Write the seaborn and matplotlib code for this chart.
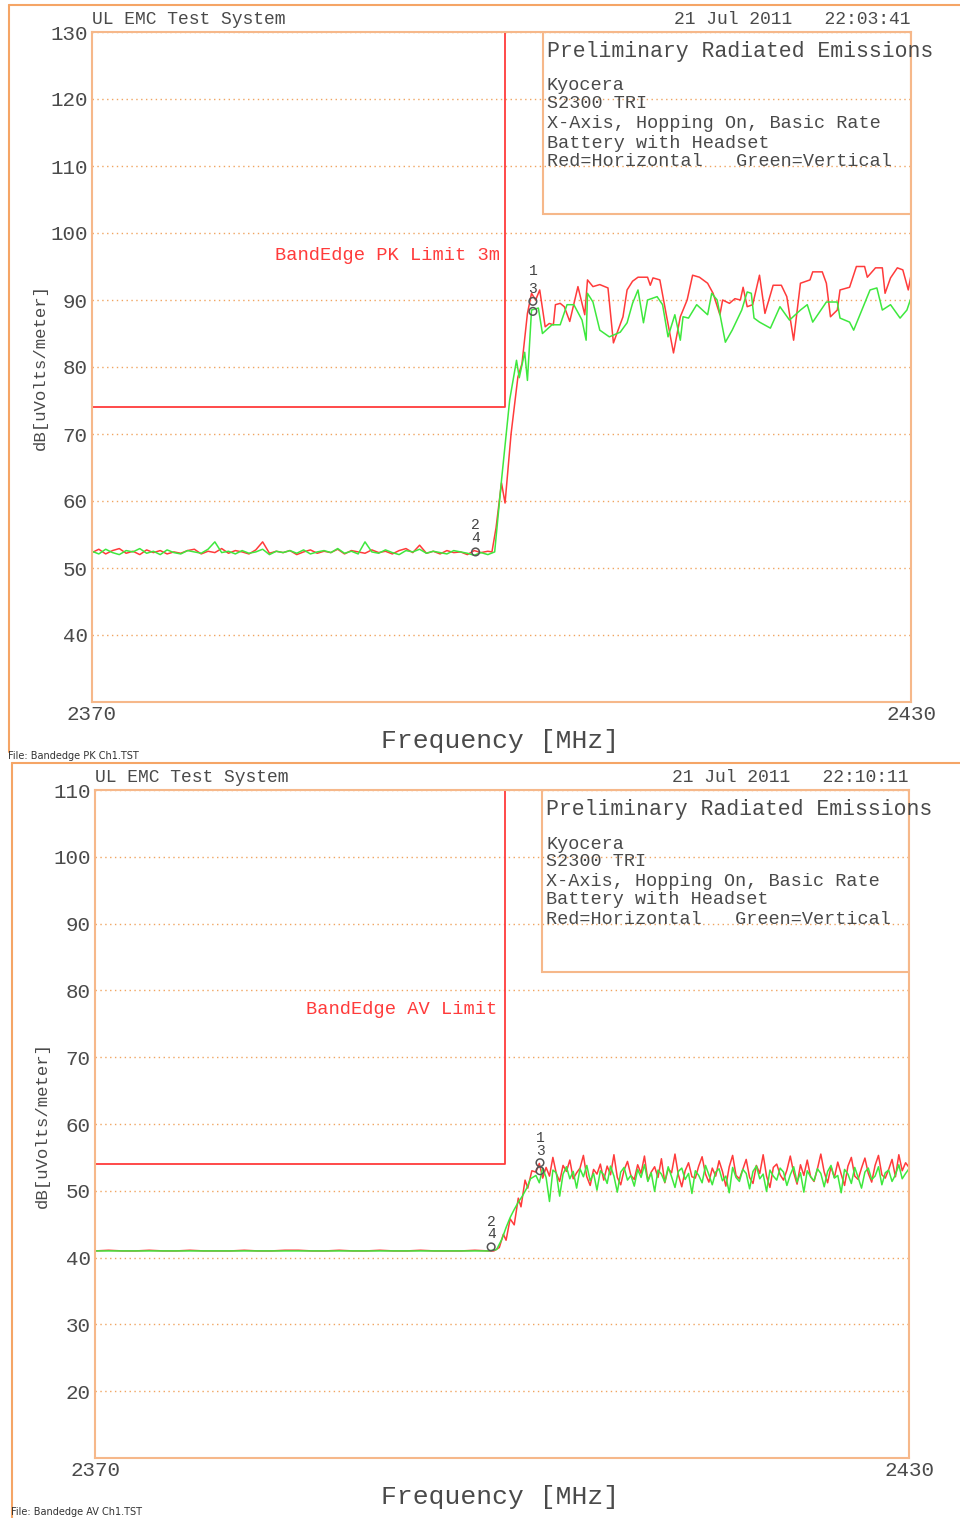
import numpy as np
import pandas as pd
import matplotlib
matplotlib.use("Agg")
import matplotlib.pyplot as plt
from matplotlib.lines import Line2D
from matplotlib.patches import Rectangle
import seaborn as sns

# ---------------- DATA ----------------
# Top panel (peak)
pk_base_freq = np.arange(2370.0, 2399.01, 0.5)
pk_red_base = [52.3, 52.8, 52.1, 52.6, 52.9, 52.2, 52.5, 52.0, 52.7, 52.3,
               52.6, 52.1, 52.4, 52.2, 52.6, 52.8, 52.1, 52.5, 52.3, 52.9,
               52.2, 52.6, 52.4, 52.1, 52.7, 53.9, 52.2, 52.5, 52.3, 52.6,
               52.0, 52.4, 52.7, 52.2, 52.5, 52.3, 52.8, 52.1, 52.6, 52.4,
               52.2, 52.7, 52.3, 52.5, 52.1, 52.6, 52.9, 52.3, 53.4, 52.2,
               52.5, 52.1, 52.6, 52.3, 52.4, 52.0, 52.6, 52.3, 52.5]
pk_green_base = [52.5, 52.1, 52.8, 52.3, 52.0, 52.6, 52.4, 52.9, 52.2, 52.5,
                 52.0, 52.7, 52.3, 52.1, 52.6, 52.4, 52.2, 52.8, 53.9, 52.3,
                 52.5, 52.1, 52.6, 52.2, 52.4, 52.8, 52.0, 52.5, 52.3, 52.6,
                 52.2, 52.7, 52.1, 52.4, 52.6, 52.3, 52.9, 52.2, 52.5, 52.1,
                 53.9, 52.4, 52.2, 52.7, 52.3, 52.0, 52.6, 52.4, 52.8, 52.2,
                 52.5, 52.3, 52.1, 52.6, 52.4, 52.2, 51.9, 52.3, 52.0]
pk_red_freq = [2399.3, 2399.6, 2400.0, 2400.26, 2400.7, 2401.2, 2401.5, 2401.9,
               2402.2, 2402.5, 2402.8, 2403.2, 2403.5, 2403.8, 2403.95, 2404.3,
               2404.6, 2405.0, 2405.6, 2406.1, 2406.3, 2406.7, 2407.2, 2407.8,
               2408.2, 2408.9, 2409.2, 2409.6, 2410.0, 2410.7, 2410.9, 2411.1,
               2411.6, 2412.1, 2412.6, 2413.1, 2413.6, 2414.0, 2414.5, 2415.1,
               2415.5, 2416.0, 2416.2, 2416.7, 2417.1, 2417.5, 2417.7, 2418.0,
               2418.4, 2418.9, 2419.3, 2419.9, 2420.5, 2420.9, 2421.4, 2421.9,
               2422.6, 2422.8, 2423.5, 2423.8, 2424.1, 2424.6, 2424.8, 2425.5,
               2426.0, 2426.6, 2426.8, 2427.4, 2427.9, 2428.1, 2428.5, 2429.0,
               2429.4, 2429.8, 2430.0]
pk_red_level = [52.4, 56.0, 62.7, 59.7, 70.0, 78.5, 80.5, 88.0,
                91.0, 90.0, 91.5, 86.0, 86.5, 86.3, 89.3, 89.5,
                89.0, 86.8, 92.0, 87.8, 93.0, 92.0, 92.3, 91.8,
                83.6, 87.5, 91.5, 92.8, 93.4, 93.4, 92.2, 93.3,
                93.0, 87.5, 82.1, 87.5, 90.0, 93.7, 93.4, 92.5,
                91.0, 87.8, 90.0, 89.5, 90.2, 90.0, 91.9, 89.0,
                89.3, 93.7, 88.0, 92.2, 92.2, 90.5, 84.0, 92.5,
                93.0, 94.2, 94.2, 92.5, 87.5, 88.5, 91.5, 91.9,
                95.0, 95.0, 93.4, 94.8, 94.8, 91.0, 93.3, 94.8,
                94.5, 91.5, 93.7]
pk_green_freq = [2399.5, 2400.0, 2400.6, 2401.1, 2401.3, 2401.7, 2401.9, 2402.2,
                 2402.7, 2403.0, 2403.7, 2404.3, 2404.8, 2405.3, 2405.9, 2406.2,
                 2406.3, 2406.7, 2407.2, 2407.9, 2408.7, 2409.2, 2409.6, 2410.0,
                 2410.4, 2410.7, 2411.4, 2411.8, 2412.2, 2412.7, 2413.1, 2413.3,
                 2413.7, 2414.3, 2415.1, 2415.4, 2415.8, 2416.4, 2416.9, 2417.6,
                 2418.0, 2418.3, 2418.5, 2418.9, 2419.7, 2420.4, 2421.1, 2421.9,
                 2422.4, 2422.8, 2423.8, 2424.6, 2424.8, 2425.5, 2425.8, 2426.4,
                 2427.0, 2427.5, 2427.9, 2428.5, 2429.2, 2429.7, 2430.0]
pk_green_level = [52.4, 63.1, 75.1, 81.0, 78.4, 82.2, 78.0, 88.5,
                  88.8, 85.0, 86.3, 86.3, 89.3, 89.3, 87.0, 84.0,
                  91.0, 89.7, 85.5, 84.5, 85.2, 86.6, 89.5, 91.5,
                  86.6, 90.0, 90.5, 89.3, 84.5, 87.8, 84.0, 87.5,
                  87.3, 89.3, 87.8, 91.0, 90.0, 83.7, 85.5, 88.5,
                  91.2, 91.0, 87.3, 86.7, 85.8, 89.0, 87.0, 88.5,
                  89.3, 86.7, 89.7, 89.7, 87.3, 86.7, 85.5, 88.5,
                  91.5, 91.8, 88.5, 89.3, 87.3, 88.5, 90.3]

# Bottom panel (average)
av_base_freq = np.arange(2370.0, 2399.01, 1.0)
av_red_base = [41.0, 41.1, 41.0, 41.0, 41.1, 41.0, 41.0, 41.1, 41.0, 41.0,
               41.0, 41.1, 41.0, 41.0, 41.1, 41.1, 41.0, 41.0, 41.1, 41.0,
               41.0, 41.1, 41.0, 41.0, 41.1, 41.0, 41.0, 41.0, 41.1, 41.0]
av_green_base = [41.0, 41.0, 41.0, 41.0, 41.0, 41.0, 41.0, 41.0, 41.0, 41.0,
                 41.0, 41.0, 41.0, 41.0, 41.0, 41.0, 41.0, 41.0, 41.0, 41.0,
                 41.0, 41.0, 41.0, 41.0, 41.0, 41.0, 41.0, 41.0, 41.0, 41.0]
av_red_rise_freq = [2399.4, 2399.8, 2400.1, 2400.3, 2400.6, 2400.9, 2401.2,
                    2401.4, 2401.7, 2401.9, 2402.2]
av_red_rise = [41.0, 41.5, 43.5, 42.6, 45.8, 44.9, 48.9, 47.6, 51.6, 50.4, 53.0]
av_green_rise_freq = [2399.6, 2400.0, 2400.3, 2400.6, 2400.9, 2401.2, 2401.5,
                      2401.8, 2402.1]
av_green_rise = [41.2, 42.8, 44.5, 46.0, 47.2, 48.3, 49.2, 50.3, 51.8]
av_noise_freq = np.arange(2402.5, 2430.01, 0.25)
av_red_noise = [52.8, 54.1, 51.9, 53.5, 52.2, 55.0, 52.6, 51.4, 53.8, 52.9,
                54.6, 51.8, 52.7, 53.4, 55.3, 52.1, 50.8, 53.2, 52.5, 54.0,
                51.6, 53.7, 52.4, 55.4, 52.0, 50.9, 53.1, 54.4, 52.3, 51.7,
                53.9, 52.6, 55.2, 51.5, 52.8, 53.6, 52.0, 54.8, 51.2, 53.3,
                52.7, 55.5, 52.4, 50.6, 53.0, 54.2, 52.1, 51.9, 53.7, 55.1,
                52.5, 51.3, 53.4, 52.2, 54.5, 52.9, 50.7, 53.6, 55.3, 52.3,
                51.8, 53.2, 54.7, 52.0, 51.1, 53.8, 52.6, 55.4, 52.2, 50.5,
                53.5, 54.0, 52.4, 51.6, 53.1, 55.2, 52.7, 51.0, 53.9, 52.3,
                54.6, 52.1, 51.4, 53.3, 55.5, 52.8, 51.2, 53.6, 52.0, 54.3,
                52.5, 50.8, 53.7, 55.0, 52.2, 51.7, 53.4, 54.9, 52.6, 51.3,
                53.8, 55.3, 52.4, 51.9, 53.2, 54.7, 52.1, 55.4, 53.0, 54.2,
                53.5]
av_green_noise = [52.3, 51.2, 53.4, 52.0, 48.4, 53.1, 52.7, 49.2, 52.5, 53.6,
                  51.8, 52.9, 50.4, 53.3, 52.1, 53.8, 51.5, 52.6, 50.1, 53.0,
                  52.4, 51.1, 53.7, 52.2, 49.8, 52.8, 53.5, 51.6, 52.3, 50.7,
                  53.2, 52.0, 53.9, 51.4, 52.7, 49.9, 53.1, 52.5, 51.3, 53.6,
                  52.1, 50.5, 52.9, 53.4, 51.7, 52.6, 49.6, 53.0, 52.3, 51.2,
                  53.8, 52.4, 50.9, 52.8, 53.3, 51.5, 52.2, 49.7, 53.5, 52.0,
                  51.4, 53.2, 52.6, 50.3, 52.9, 53.7, 51.8, 52.5, 49.9, 53.1,
                  52.2, 51.6, 53.4, 52.8, 50.8, 52.4, 53.6, 51.3, 52.7, 49.8,
                  53.0, 52.1, 51.5, 53.3, 52.6, 50.6, 52.9, 53.8, 51.9, 52.3,
                  49.7, 53.2, 52.5, 51.1, 53.5, 52.0, 50.4, 52.8, 53.4, 51.7,
                  52.2, 53.6, 50.9, 52.7, 53.1, 51.4, 52.4, 53.9, 51.8, 52.6,
                  53.3]

band_edge = 2400.25
pk_limit = 74.0
av_limit = 54.0

# marker symbols and labels (freq, level)
pk_mk_freq = [2402.3, 2402.3, 2398.1]
pk_mk_level = [89.8, 88.3, 52.4]
pk_lab_freq = [2402.3, 2402.3, 2398.1, 2398.1]
pk_lab_level = [94.3, 91.6, 56.4, 54.5]
pk_lab_text = ["1", "3", "2", "4"]
av_mk_freq = [2402.8, 2402.8, 2399.2]
av_mk_level = [54.2, 53.0, 41.6]
av_lab_freq = [2402.8, 2402.8, 2399.2, 2399.2]
av_lab_level = [57.9, 55.9, 45.3, 43.5]
av_lab_text = ["1", "3", "2", "4"]

legend_lines = ["Kyocera", "S2300 TRI", "X-Axis, Hopping On, Basic Rate",
                "Battery with Headset", "Red=Horizontal   Green=Vertical"]

# ---------------- STYLE ----------------
sns.set_style("white")
plt.rcParams['font.family'] = ['Liberation Mono', 'DejaVu Sans Mono', 'DejaVu Sans']

W, H = 960, 1518
RED = "#ff3b3b"
GREEN = "#3ee83e"
ORANGE = "#f6b88a"
GRIDC = "#f0a460"
TXT = "#4a4a4a"

fig = plt.figure(figsize=(W / 100, H / 100), dpi=100)


def rect(l, t, r, b):
    return [l / W, 1 - b / H, (r - l) / W, (b - t) / H]


def fx(px):
    return px / W


def fy(py):
    return 1 - py / H


def make_df(rf, rl, gf, gl):
    d1 = pd.DataFrame({"freq": rf, "level": rl, "pol": "Horizontal"})
    d2 = pd.DataFrame({"freq": gf, "level": gl, "pol": "Vertical"})
    return pd.concat([d1, d2], ignore_index=True)


df_pk = make_df(list(pk_base_freq) + pk_red_freq, pk_red_base + pk_red_level,
                list(pk_base_freq) + pk_green_freq, pk_green_base + pk_green_level)
df_av = make_df(list(av_base_freq) + av_red_rise_freq + list(av_noise_freq),
                av_red_base + av_red_rise + av_red_noise,
                list(av_base_freq) + av_green_rise_freq + list(av_noise_freq),
                av_green_base + av_green_rise + av_green_noise)


def panel(ax, df, ymin, ymax, limit, mkf, mkl, lf, ll, lt, legbox):
    sns.lineplot(data=df, x="freq", y="level", hue="pol",
                 hue_order=["Horizontal", "Vertical"], palette=[RED, GREEN],
                 estimator=None, sort=False, lw=1.1, legend=False, ax=ax)
    ax.plot([2370, band_edge, band_edge], [limit, limit, ymax], color=RED,
            lw=1.3, clip_on=False)
    ax.set_xlim(2370, 2430)
    ax.set_ylim(ymin, ymax)
    ax.set_xticks([2370, 2430])
    ax.set_yticks(list(range(ymin + 10, ymax + 1, 10)))
    ax.set_xlabel("")
    ax.set_ylabel("")
    ax.yaxis.grid(True, linestyle=(0, (1, 2.5)), color=GRIDC, lw=1.0)
    ax.xaxis.grid(False)
    for s in ax.spines.values():
        s.set_visible(True)
        s.set_color(ORANGE)
        s.set_linewidth(1.5)
    ax.tick_params(axis="both", length=0, labelsize=15, labelcolor=TXT)
    ax.tick_params(axis="y", pad=3)
    ax.tick_params(axis="x", pad=2)
    ax.scatter(mkf, mkl, s=30, marker="o", facecolors="none",
               edgecolors="#555555", linewidths=1.1, zorder=5)
    for f, l, t in zip(lf, ll, lt):
        ax.text(f, l, t, ha="center", va="center", fontsize=10.5, color="#444444",
                zorder=6)
    x0, y0 = legbox
    ax.add_patch(Rectangle((x0, y0), 1 - x0, 1 - y0, transform=ax.transAxes,
                           fill=False, ec=ORANGE, lw=1.5, zorder=4))


ax1 = fig.add_axes(rect(92, 32, 911, 702))
panel(ax1, df_pk, 30, 130, pk_limit, pk_mk_freq, pk_mk_level,
      pk_lab_freq, pk_lab_level, pk_lab_text, ((543 - 92) / 819, 1 - (214 - 32) / 670))

ax2 = fig.add_axes(rect(95, 790, 909, 1458))
panel(ax2, df_av, 10, 110, av_limit, av_mk_freq, av_mk_level,
      av_lab_freq, av_lab_level, av_lab_text, ((542 - 95) / 814, 1 - (972 - 790) / 668))

# outer frames
for (xa, ya, xb, yb) in [(9, 5, 960, 5), (9, 5, 9, 752), (12, 763, 960, 763), (12, 763, 12, 1518)]:
    fig.add_artist(Line2D([fx(xa), fx(xb)], [fy(ya), fy(yb)], color="#f5a566", lw=1.5))


def texts(left, right, ytop, date, leg_x, leg_ys, limit_text, limit_xy, ylab_xy, xlab_y, file_xy, file_text):
    fig.text(fx(left), fy(ytop), "UL EMC Test System", ha="left", va="center", fontsize=13, color=TXT)
    fig.text(fx(right), fy(ytop), date, ha="right", va="center", fontsize=13, color=TXT)
    fig.text(fx(leg_x), fy(leg_ys[0]), "Preliminary Radiated Emissions", ha="left", va="center",
             fontsize=15.5, color=TXT)
    for line, yy in zip(legend_lines, leg_ys[1:]):
        fig.text(fx(leg_x), fy(yy), line, ha="left", va="center", fontsize=13.3, color=TXT)
    fig.text(fx(limit_xy[0]), fy(limit_xy[1]), limit_text, ha="right", va="center", fontsize=13.5, color=RED)
    fig.text(fx(ylab_xy[0]), fy(ylab_xy[1]), "dB[uVolts/meter]", ha="center", va="center",
             rotation=90, fontsize=12.5, color=TXT)
    fig.text(fx(500), fy(xlab_y), "Frequency [MHz]", ha="center", va="center", fontsize=19, color=TXT)
    fig.text(fx(file_xy[0]), fy(file_xy[1]), file_text, ha="left", va="center", fontsize=7,
             color="#333333", family="DejaVu Sans")


texts(92, 911, 19, "21 Jul 2011   22:03:41", 547, [52, 86, 104, 124, 143, 161],
      "BandEdge PK Limit 3m", (500, 256), (40, 367), 741, (8, 756), "File: Bandedge PK Ch1.TST")
texts(95, 908, 777, "21 Jul 2011   22:10:11", 546, [810, 844, 862, 881, 900, 919],
      "BandEdge AV Limit", (497, 1009), (42, 1125), 1497, (11, 1512), "File: Bandedge AV Ch1.TST")

fig.savefig("out.png", dpi=100)
